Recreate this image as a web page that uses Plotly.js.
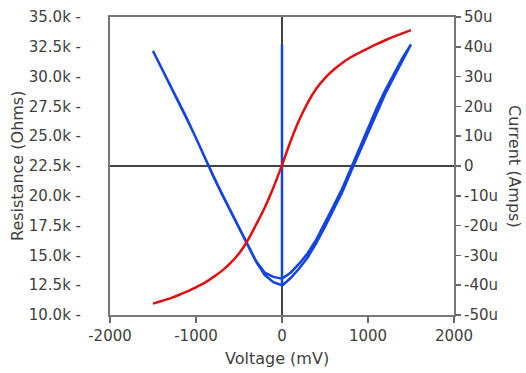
<!DOCTYPE html>
<html>
<head>
<meta charset="utf-8">
<script src="https://cdn.plot.ly/plotly-3.0.1.min.js"></script>
<style>
html,body{margin:0;padding:0;background:#fff;}
#chart{width:526px;height:373px;}
</style>
</head>
<body>
<div id="chart"></div>
<script>
// Resistance sweep (kOhm) vs voltage (mV): start spike, right out, right back, left out, left back
const resVolt = [0, 0,
  0, 100, 200, 300, 400, 500, 600, 700, 800, 900, 1000, 1100, 1200, 1300, 1400, 1500,
  1400, 1300, 1200, 1100, 1000, 900, 800, 700, 600, 500, 400, 300, 200, 100, 0,
  -100, -200, -300, -400, -500, -600, -700, -800, -900, -1000, -1100, -1200, -1300, -1400, -1500,
  -1400, -1300, -1200, -1100, -1000, -900, -800, -700, -600, -500, -400, -300, -200, -100, 0];
const resKohm = [32.7, 12.5,
  12.45, 13.1, 13.9, 14.85, 16.05, 17.4, 18.85, 20.3, 22.0, 23.65, 25.35, 27.05, 28.55, 29.95, 31.3, 32.7,
  31.55, 30.25, 28.85, 27.35, 25.65, 23.95, 22.3, 20.6, 19.15, 17.7, 16.35, 15.2, 14.3, 13.55, 13.05,
  13.2, 13.55, 14.5, 15.9, 17.3, 18.75, 20.2, 21.7, 23.25, 24.9, 26.4, 27.85, 29.3, 30.8, 32.15,
  30.75, 29.25, 27.8, 26.35, 24.85, 23.2, 21.65, 20.15, 18.7, 17.25, 15.85, 14.45, 13.35, 12.75, 12.5];

// Current (uA) vs voltage (mV)
const curVolt = [-1500, -1400, -1300, -1200, -1100, -1000, -900, -800, -700, -600, -500, -400, -300, -200, -100,
  0, 100, 200, 300, 400, 500, 600, 700, 800, 900, 1000, 1100, 1200, 1300, 1400, 1500];
const curMicroAmp = [-46.2, -45.3, -44.4, -43.3, -42.1, -40.7, -39.2, -37.3, -35.2, -32.6, -29.4, -25.0, -19.6, -13.9, -7.2,
  0.3, 8.3, 15.4, 21.3, 26.0, 29.5, 32.3, 34.6, 36.5, 38.0, 39.5, 40.9, 42.2, 43.4, 44.5, 45.6];

const xTicks = [-2000, -1000, 0, 1000, 2000];
const xTickText = ['-2000', '-1000', '0', '1000', '2000'];
const yTicks = [10, 12.5, 15, 17.5, 20, 22.5, 25, 27.5, 30, 32.5, 35];
const yTickText = ['10.0k -', '12.5k -', '15.0k -', '17.5k -', '20.0k -', '22.5k -', '25.0k -', '27.5k -', '30.0k -', '32.5k -', '35.0k -'];
const y2Ticks = [-50, -40, -30, -20, -10, 0, 10, 20, 30, 40, 50];
const y2TickText = ['-50u', '-40u', '-30u', '-20u', '-10u', '0', '10u', '20u', '30u', '40u', '50u'];

const FONT = 'DejaVu Sans, Verdana, sans-serif';
const TXT = '#404040';

const traces = [
  {x: resVolt, y: resKohm, type: 'scatter', mode: 'lines', yaxis: 'y',
   line: {color: '#1444e0', width: 2.5}, hoverinfo: 'skip'},
  {x: curVolt, y: curMicroAmp, type: 'scatter', mode: 'lines', yaxis: 'y2',
   line: {color: '#e01010', width: 2.5, shape: 'spline'}, hoverinfo: 'skip'}
];

const layout = {
  width: 526, height: 373,
  margin: {l: 110, r: 72, t: 17, b: 58, pad: 0},
  paper_bgcolor: '#fff', plot_bgcolor: '#fff',
  showlegend: false,
  font: {family: FONT, size: 15, color: TXT},
  xaxis: {
    range: [-2000, 2000], tickvals: xTicks, ticktext: xTickText,
    ticks: 'outside', ticklen: 6, tickwidth: 1.5, tickcolor: '#666',
    showline: true, linecolor: '#777', linewidth: 2, mirror: true,
    showgrid: false, zeroline: true, zerolinecolor: '#444', zerolinewidth: 1.5,
    tickfont: {family: FONT, size: 15, color: TXT}
  },
  yaxis: {
    range: [10, 35], tickvals: yTicks, ticktext: yTickText,
    ticks: '', showline: true, linecolor: '#777', linewidth: 2,
    showgrid: false, zeroline: false, ticklabelstandoff: 24,
    tickfont: {family: FONT, size: 15, color: TXT}
  },
  yaxis2: {
    overlaying: 'y', side: 'right',
    range: [-50, 50], tickvals: y2Ticks, ticktext: y2TickText,
    ticks: 'outside', ticklen: 5, tickwidth: 1.5, tickcolor: '#666',
    showline: true, linecolor: '#777', linewidth: 2,
    showgrid: false, zeroline: true, zerolinecolor: '#444', zerolinewidth: 1.5,
    ticklabelstandoff: 0,
    tickfont: {family: FONT, size: 15, color: TXT}
  },
  annotations: [
    {text: 'Voltage (mV)', xref: 'paper', yref: 'paper', x: 0.5, y: 0,
     xanchor: 'center', yanchor: 'middle', xshift: -5, yshift: -43,
     showarrow: false, font: {family: FONT, size: 16, color: TXT}},
    {text: 'Resistance (Ohms)', xref: 'paper', yref: 'paper', x: 0, y: 0.5,
     xanchor: 'center', yanchor: 'middle', xshift: -93, textangle: -90,
     showarrow: false, font: {family: FONT, size: 16, color: TXT}},
    {text: 'Current (Amps)', xref: 'paper', yref: 'paper', x: 1, y: 0.5,
     xanchor: 'center', yanchor: 'middle', xshift: 61, textangle: 90,
     showarrow: false, font: {family: FONT, size: 16, color: TXT}}
  ]
};

Plotly.newPlot('chart', traces, layout, {staticPlot: true, displayModeBar: false});
</script>
</body>
</html>
